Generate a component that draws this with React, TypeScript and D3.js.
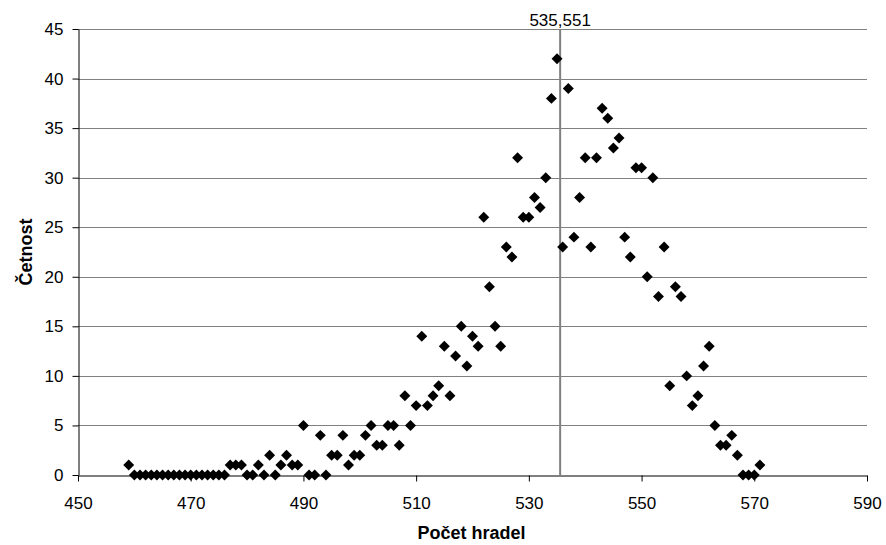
import { useRef, useEffect } from 'react';
import * as d3 from 'd3';

const FONT = '"Liberation Sans", Arial, Helvetica, sans-serif';

// Počet hradel (x) and Četnost (y), one entry per observed gate count
const gateCounts = [
  459, 460, 461, 462, 463, 464, 465, 466, 467, 468, 469, 470, 471, 472, 473, 474, 475, 476,
  477, 478, 479, 480, 481, 482, 483, 484, 485, 486, 487, 488, 489, 490, 491, 492, 493, 494,
  495, 496, 497, 498, 499, 500, 501, 502, 503, 504, 505, 506, 507, 508, 509, 510, 511, 512,
  513, 514, 515, 516, 517, 518, 519, 520, 521, 522, 523, 524, 525, 526, 527, 528, 529, 530,
  531, 532, 533, 534, 535, 536, 537, 538, 539, 540, 541, 542, 543, 544, 545, 546, 547, 548,
  549, 550, 551, 552, 553, 554, 555, 556, 557, 558, 559, 560, 561, 562, 563, 564, 565, 566,
  567, 568, 569, 570, 571,
];
const frequencies = [
  1, 0, 0, 0, 0, 0, 0, 0, 0, 0, 0, 0, 0, 0, 0, 0, 0, 0,
  1, 1, 1, 0, 0, 1, 0, 2, 0, 1, 2, 1, 1, 5, 0, 0, 4, 0,
  2, 2, 4, 1, 2, 2, 4, 5, 3, 3, 5, 5, 3, 8, 5, 7, 14, 7,
  8, 9, 13, 8, 12, 15, 11, 14, 13, 26, 19, 15, 13, 23, 22, 32, 26, 26,
  28, 27, 30, 38, 42, 23, 39, 24, 28, 32, 23, 32, 37, 36, 33, 34, 24, 22,
  31, 31, 20, 30, 18, 23, 9, 19, 18, 10, 7, 8, 11, 13, 5, 3, 3, 4,
  2, 0, 0, 0, 1,
];

const xTicks = [450, 470, 490, 510, 530, 550, 570, 590];
const yTicks = [0, 5, 10, 15, 20, 25, 30, 35, 40, 45];
const meanValue = 535.551;
const meanLabel = '535,551';

const WIDTH = 886;
const HEIGHT = 545;

export default function App() {
  const svgRef = useRef<SVGSVGElement>(null);

  useEffect(() => {
    const svg = d3.select(svgRef.current);
    svg.selectAll('*').remove();

    const margin = { top: 29, right: 19, bottom: 70, left: 78 };
    const width = WIDTH - margin.left - margin.right;
    const height = HEIGHT - margin.top - margin.bottom;

    const x = d3.scaleLinear().domain([450, 590]).range([0, width]);
    const y = d3.scaleLinear().domain([0, 45]).range([height, 0]);

    const g = svg.append('g').attr('transform', `translate(${margin.left},${margin.top})`);

    // horizontal grid lines
    g.append('g')
      .selectAll('line')
      .data(yTicks.filter(t => t > 0))
      .join('line')
      .attr('x1', 0)
      .attr('x2', width)
      .attr('y1', d => Math.round(y(d)) + 0.5)
      .attr('y2', d => Math.round(y(d)) + 0.5)
      .attr('stroke', '#808080')
      .attr('stroke-width', 1);

    // y axis
    g.append('g')
      .attr('transform', 'translate(0.5,0)')
      .call(d3.axisLeft(y).tickValues(yTicks).tickSize(6).tickPadding(9).tickSizeOuter(0))
      .call(sel => {
        sel.select('.domain').attr('stroke', '#000');
        sel.selectAll('.tick line').attr('stroke', '#000');
        sel.selectAll('text')
          .attr('fill', '#000')
          .attr('font-family', FONT)
          .attr('font-size', 17);
      });

    // x axis
    g.append('g')
      .attr('transform', `translate(0,${Math.round(height) + 0.5})`)
      .call(d3.axisBottom(x).tickValues(xTicks).tickSize(6).tickPadding(15).tickSizeOuter(0))
      .call(sel => {
        sel.select('.domain').attr('stroke', '#000');
        sel.selectAll('.tick line').attr('stroke', '#000');
        sel.selectAll('text')
          .attr('fill', '#000')
          .attr('font-family', FONT)
          .attr('font-size', 17);
      });

    // mean line
    g.append('line')
      .attr('x1', x(meanValue))
      .attr('x2', x(meanValue))
      .attr('y1', 0)
      .attr('y2', height)
      .attr('stroke', '#808080')
      .attr('stroke-width', 2);

    g.append('text')
      .attr('x', x(meanValue))
      .attr('y', -3)
      .attr('text-anchor', 'middle')
      .attr('font-family', FONT)
      .attr('font-size', 17)
      .attr('fill', '#000')
      .text(meanLabel);

    // diamond markers
    const diamond = d3.symbol().type(d3.symbolSquare).size(60);
    g.append('g')
      .selectAll('path')
      .data(gateCounts.map((c, i) => ({ c, f: frequencies[i] })))
      .join('path')
      .attr('d', diamond)
      .attr('transform', d => `translate(${x(d.c)},${y(d.f)}) rotate(45)`)
      .attr('fill', '#000');

    // axis titles
    svg.append('text')
      .attr('x', margin.left + width / 2 - 1)
      .attr('y', 539)
      .attr('text-anchor', 'middle')
      .attr('font-family', FONT)
      .attr('font-size', 18)
      .attr('font-weight', 'bold')
      .attr('fill', '#000')
      .text('Počet hradel');

    svg.append('text')
      .attr('transform', `translate(32,${margin.top + height / 2}) rotate(-90)`)
      .attr('text-anchor', 'middle')
      .attr('font-family', FONT)
      .attr('font-size', 18)
      .attr('font-weight', 'bold')
      .attr('fill', '#000')
      .text('Četnost');
  }, []);

  return (
    <svg
      ref={svgRef}
      width={WIDTH}
      height={HEIGHT}
      style={{ position: 'absolute', left: 0, top: 0, background: '#fff' }}
    />
  );
}
